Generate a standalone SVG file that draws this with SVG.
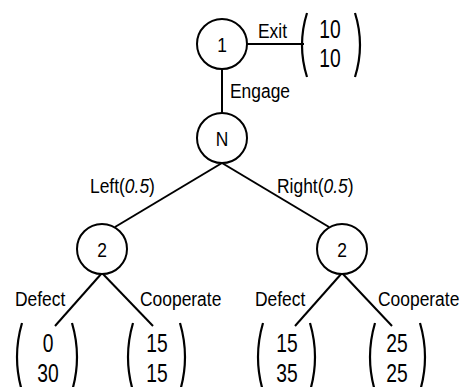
<svg xmlns="http://www.w3.org/2000/svg" width="465" height="387" viewBox="0 0 465 387">
  <style>
    .node circle { fill: #fff; stroke: #000; stroke-width: 2; }
    .edges line, .edges path { stroke: #000; stroke-width: 2; fill: none; }
    .paren { stroke: #000; stroke-width: 2.2; fill: none; }
    text { font-family: "Liberation Sans", Arial, sans-serif; fill: #000; }
    .lbl { font-size: 21px; }
    .num { font-size: 25px; text-anchor: middle; }
    .mid { text-anchor: middle; }
  </style>
  <rect width="465" height="387" fill="#fff"/>

  <!-- connectors -->
  <g class="edges" id="edges">
    <line x1="247" y1="44" x2="304" y2="44"/>
    <line x1="222" y1="69" x2="222" y2="113"/>
    <line x1="222" y1="163" x2="115" y2="227"/>
    <line x1="222" y1="163" x2="329" y2="227"/>
    <line x1="102" y1="273" x2="55" y2="326"/>
    <line x1="102" y1="273" x2="153" y2="326"/>
    <line x1="342" y1="273" x2="295" y2="326"/>
    <line x1="342" y1="273" x2="392" y2="326"/>
  </g>

  <!-- edge labels -->
  <g id="edge-labels" class="lbl">
    <text transform="translate(258 38) scale(0.83 1)">Exit</text>
    <text transform="translate(230 98) scale(0.83 1)">Engage</text>
    <text transform="translate(90 193) scale(0.83 1)">Left(<tspan font-style="italic">0.5</tspan>)</text>
    <text transform="translate(277 193) scale(0.83 1)">Right(<tspan font-style="italic">0.5</tspan>)</text>
    <text transform="translate(15 306) scale(0.83 1)">Defect</text>
    <text transform="translate(140 306) scale(0.83 1)">Cooperate</text>
    <text transform="translate(255 306) scale(0.83 1)">Defect</text>
    <text transform="translate(378 306) scale(0.83 1)">Cooperate</text>
  </g>

  <!-- decision nodes -->
  <g class="node" id="node-1">
    <circle cx="222" cy="44" r="25"/>
    <text class="lbl mid" transform="translate(222 52) scale(0.83 1)">1</text>
  </g>
  <g class="node" id="node-N">
    <circle cx="222" cy="138" r="25"/>
    <text class="lbl mid" transform="translate(222 146) scale(0.83 1)">N</text>
  </g>
  <g class="node" id="node-2-left">
    <circle cx="102" cy="249" r="25"/>
    <text class="lbl mid" transform="translate(102 257) scale(0.83 1)">2</text>
  </g>
  <g class="node" id="node-2-right">
    <circle cx="342" cy="249" r="25"/>
    <text class="lbl mid" transform="translate(342 257) scale(0.83 1)">2</text>
  </g>

  <!-- payoff vectors -->
  <g id="payoff-exit">
    <path class="paren" d="M307 13 Q297 45 307 77"/>
    <path class="paren" d="M355 13 Q365 45 355 77"/>
    <text class="num" transform="translate(330 38) scale(0.77 1)">10</text>
    <text class="num" transform="translate(330 67) scale(0.77 1)">10</text>
  </g>
  <g id="payoff-left-defect">
    <path class="paren" d="M22 323 Q12 357 22 391"/>
    <path class="paren" d="M72 323 Q82 357 72 391"/>
    <text class="num" transform="translate(48 352) scale(0.77 1)">0</text>
    <text class="num" transform="translate(48 382) scale(0.77 1)">30</text>
  </g>
  <g id="payoff-left-cooperate">
    <path class="paren" d="M133 323 Q123 357 133 391"/>
    <path class="paren" d="M180 323 Q190 357 180 391"/>
    <text class="num" transform="translate(157 352) scale(0.77 1)">15</text>
    <text class="num" transform="translate(157 382) scale(0.77 1)">15</text>
  </g>
  <g id="payoff-right-defect">
    <path class="paren" d="M263 323 Q253 357 263 391"/>
    <path class="paren" d="M310 323 Q320 357 310 391"/>
    <text class="num" transform="translate(287 352) scale(0.77 1)">15</text>
    <text class="num" transform="translate(287 382) scale(0.77 1)">35</text>
  </g>
  <g id="payoff-right-cooperate">
    <path class="paren" d="M375 323 Q365 357 375 391"/>
    <path class="paren" d="M420 323 Q430 357 420 391"/>
    <text class="num" transform="translate(397 352) scale(0.77 1)">25</text>
    <text class="num" transform="translate(397 382) scale(0.77 1)">25</text>
  </g>
</svg>
